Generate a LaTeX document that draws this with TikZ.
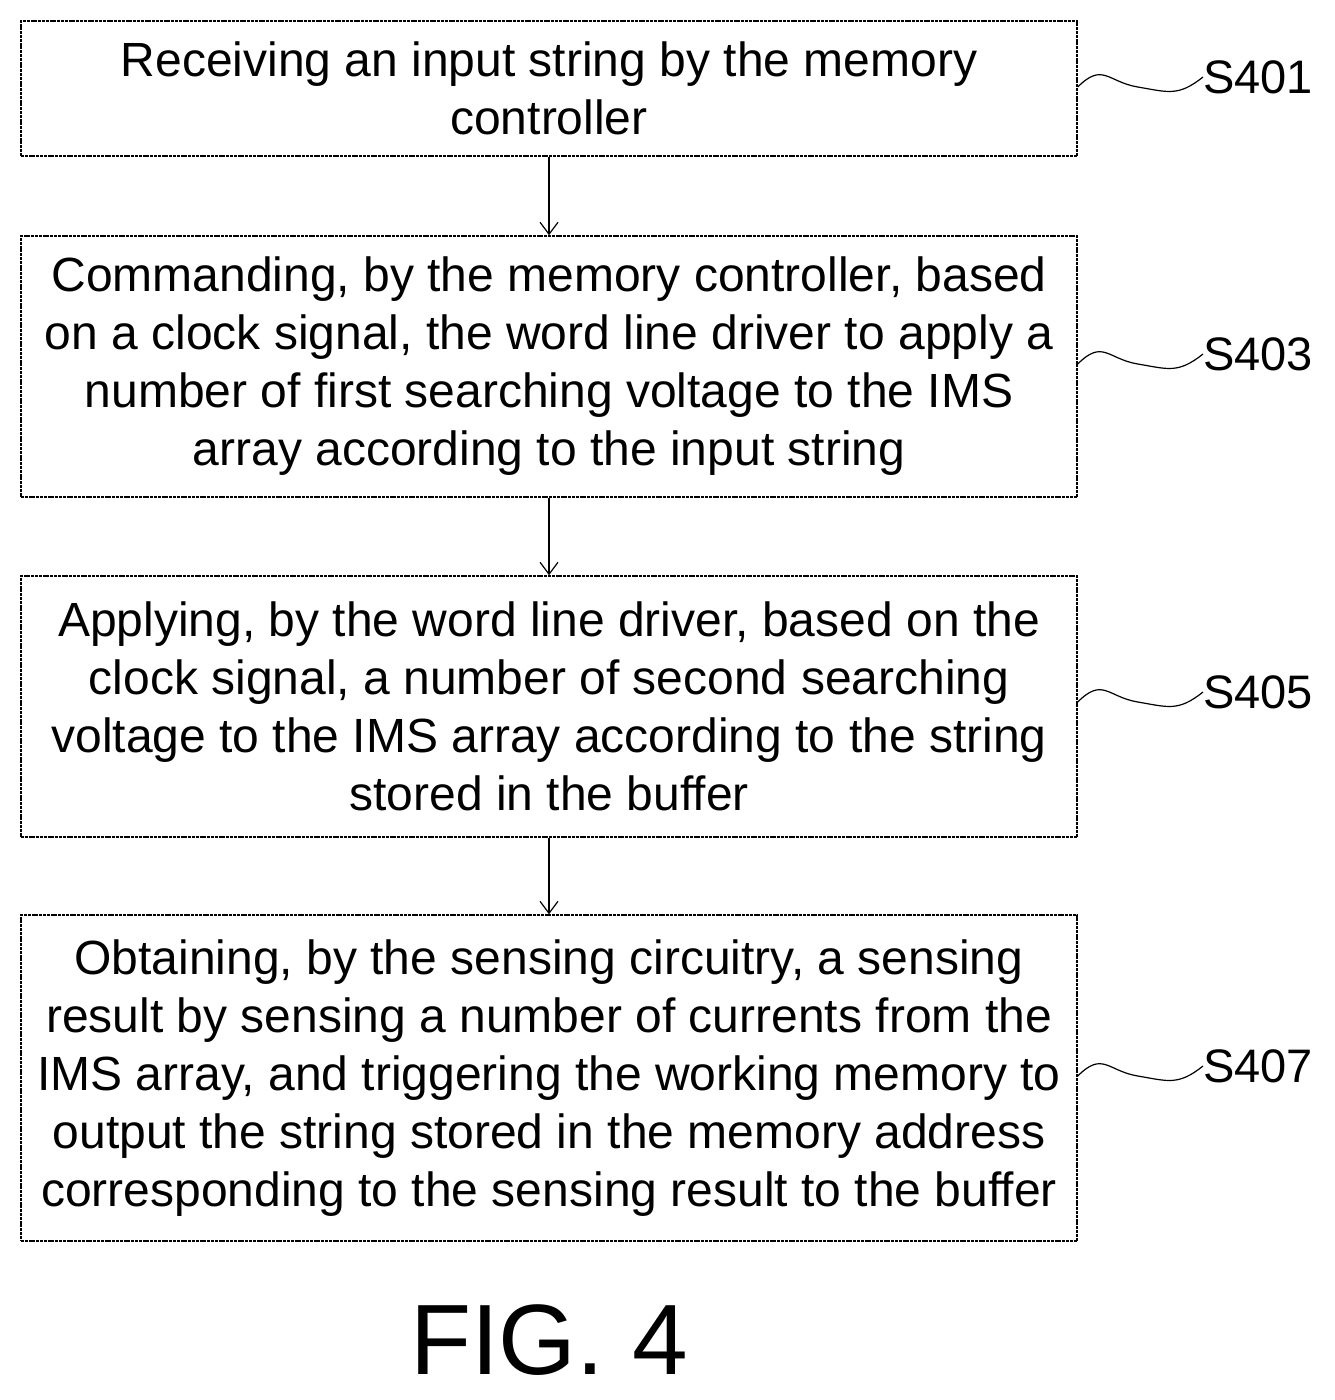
\documentclass[tikz,border=0pt]{standalone}
\usepackage{fontspec}
\setmainfont{Liberation Sans}
\usetikzlibrary{arrows.meta}
\begin{document}
\begin{tikzpicture}[x=1pt,y=-1pt,
  box/.style={draw,line width=1.5pt,dash pattern=on 3pt off 0.8pt,minimum width=1056pt,align=center,inner sep=0pt,font=\fontsize{48}{58}\selectfont},
  arr/.style={line width=1.2pt,-{Straight Barb[length=12pt,width=18pt]}},
  sq/.style={line width=1.2pt},
  lab/.style={font=\fontsize{47}{50}\selectfont,anchor=west,inner sep=0pt}]
\useasboundingbox (0,0) rectangle (1334,1400);
\node[box,minimum height=135pt] (b1) at (549,88.5) {Receiving an input string by the memory\\controller};
\node[box,minimum height=261pt] (b2) at (549,366.5) {Commanding, by the memory controller, based\\on a clock signal, the word line driver to apply a\\number of first searching voltage to the IMS\\array according to the input string};
\node[box,minimum height=261pt] (b3) at (549,706.5) {Applying, by the word line driver, based on the\\clock signal, a number of second searching\\voltage to the IMS array according to the string\\stored in the buffer};
\node[box,minimum height=326pt] (b4) at (549,1078) {Obtaining, by the sensing circuitry, a sensing\\result by sensing a number of currents from the\\IMS array, and triggering the working memory to\\output the string stored in the memory address\\corresponding to the sensing result to the buffer};
\draw[arr] (b1.south) -- (b2.north);
\draw[arr] (b2.south) -- (b3.north);
\draw[arr] (b3.south) -- (b4.north);
\foreach \b/\t/\y in {b1/S401/77,b2/S403/354,b3/S405/692,b4/S407/1066}{
  \node[lab] (l\t) at (1203,\y) {\t};
  \coordinate (e\t) at (\b.east |- 0,\y+10);
  \draw[sq] (e\t) .. controls ++(25,-25) and ++(-30,-5) .. ++(60,0) .. controls ++(30,5) and ++(-25,20) .. (l\t.west);
}
\node[font=\fontsize{100}{110}\selectfont,inner sep=0pt] (fig) at (549,1340) {FIG. 4};
\end{tikzpicture}
\end{document}
